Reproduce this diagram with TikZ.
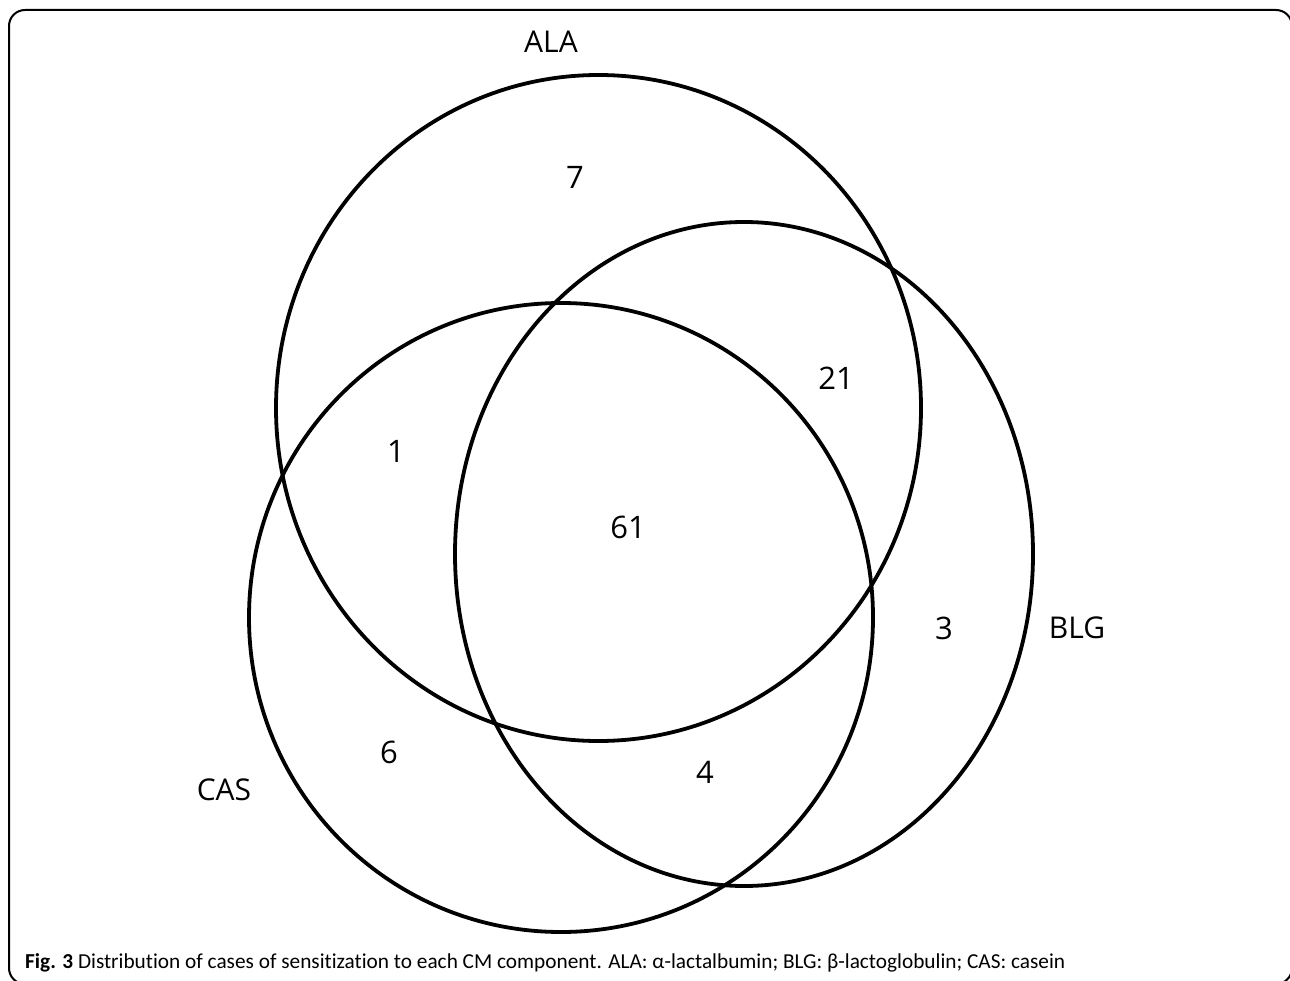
\documentclass[tikz,border=0pt]{standalone}
\usepackage{fontspec}
\setmainfont{Open Sans}
\newfontfamily\capfont[Ligatures=NoCommon]{Carlito}
\begin{document}
\begin{tikzpicture}[x=1pt,y=-1pt,
  venn/.style={line width=3.8pt, black},
  lbl/.style={font=\fontsize{30}{36}\selectfont, inner sep=0pt, anchor=center},
  num/.style={font=\fontsize{31}{36}\selectfont, inner sep=0pt, anchor=center},
]
\useasboundingbox (0,0) rectangle (1290,981);
\draw[line width=2pt, rounded corners=16pt] (9,10) rectangle (1292,984);
% sets
\draw[venn] (598.5,408) ellipse [x radius=322.5, y radius=333];
\draw[venn] (744,554) ellipse [x radius=289, y radius=332];
\draw[venn] (561,617.5) ellipse [x radius=312, y radius=314.5];
% set labels
\node[lbl] (ala) at (551,42) {ALA};
\node[lbl] (blg) at (1077,628) {BLG};
\node[lbl] (cas) at (224,790) {CAS};
% counts
\node[num] (n7)  at (575,177) {7};
\node[num] (n21) at (836,378) {21};
\node[num] (n1)  at (396,451) {1};
\node[num] (n61) at (628,527) {61};
\node[num] (n3)  at (944,628) {3};
\node[num] (n6)  at (389,752) {6};
\node[num] (n4)  at (705,772) {4};
% caption
\node[font=\capfont\fontsize{21.3}{24}\selectfont, inner sep=0pt, anchor=base west] (cap) at (25,968)
  {\textbf{Fig. 3} Distribution of cases of sensitization to each CM component. ALA: α-lactalbumin; BLG: β-lactoglobulin; CAS: casein};
\end{tikzpicture}
\end{document}
